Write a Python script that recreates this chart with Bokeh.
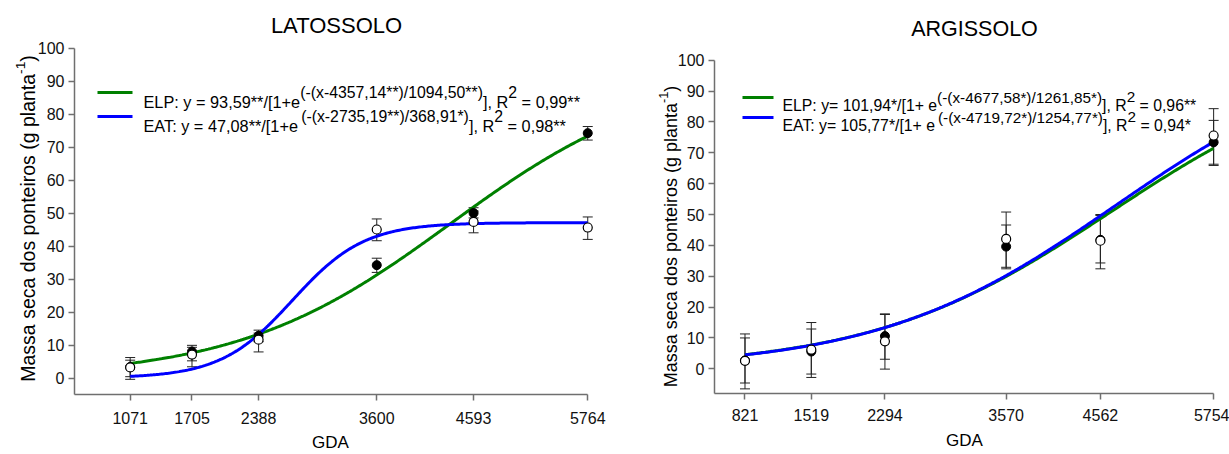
import numpy as np
from bokeh.plotting import figure
from bokeh.layouts import row
from bokeh.models import (Range1d, FixedTicker, Label, BoxAnnotation, Whisker, TeeHead,
                          ColumnDataSource)
from bokeh.embed import file_html
from bokeh.resources import INLINE

FONT = "Liberation Sans"
ELP_COLOR = "#008000"
EAT_COLOR = "#0000ff"
AXIS_COLOR = "#6f6f6f"

# ---------------- LATOSSOLO ----------------
lat_gda = [1071, 1705, 2388, 3600, 4593, 5764]
lat_elp = [3.3, 8.0, 12.8, 34.2, 50.0, 74.2]
lat_elp_low = [0.4, 5.2, 11.0, 32.0, 48.5, 72.1]
lat_elp_high = [6.2, 9.9, 14.5, 36.3, 51.6, 76.2]
lat_eat = [3.2, 7.1, 11.6, 45.0, 47.3, 45.6]
lat_eat_low = [-0.4, 3.4, 7.9, 41.6, 44.0, 42.0]
lat_eat_high = [5.4, 9.3, 13.6, 48.2, 50.6, 48.8]
# sigmoid parameters a, x0, b of y = a / (1 + exp(-(x - x0) / b))
lat_elp_fit = [93.59, 4357.14, 1094.50]
lat_eat_fit = [47.08, 2735.19, 368.91]

# ---------------- ARGISSOLO ----------------
arg_gda = [821, 1519, 2294, 3570, 4562, 5754]
arg_elp = [2.7, 5.6, 10.6, 39.6, 41.8, 73.4]
arg_elp_low = [-4.6, -1.7, 3.1, 32.9, 34.3, 66.3]
arg_elp_high = [10.0, 12.9, 17.8, 46.6, 49.7, 80.5]
arg_eat = [2.6, 6.2, 8.9, 42.1, 41.5, 75.6]
arg_eat_low = [-6.5, -2.8, -0.1, 32.4, 32.4, 65.9]
arg_eat_high = [11.3, 15.0, 17.6, 50.8, 50.0, 84.3]
arg_elp_fit = [101.94, 4677.58, 1261.85]
arg_eat_fit = [105.77, 4719.72, 1254.77]

y_ticks = [0, 10, 20, 30, 40, 50, 60, 70, 80, 90, 100]

# equation texts: (piece, is_superscript)
lat_elp_eq = [("ELP: y = 93,59**/[1+e", False), ("(-(x-4357,14**)/1094,50**)", True),
              ("], R", False), ("2", True), (" = 0,99**", False)]
lat_eat_eq = [("EAT: y = 47,08**/[1+e", False), ("(-(x-2735,19**)/368,91*)", True),
              ("], R", False), ("2", True), (" = 0,98**", False)]
arg_elp_eq = [("ELP: y= 101,94*/[1+ e", False), ("(-(x-4677,58*)/1261,85*)", True),
              ("], R", False), ("2", True), (" = 0,96**", False)]
arg_eat_eq = [("EAT: y= 105,77*/[1+ e", False), ("(-(x-4719,72*)/1254,77*)", True),
              ("], R", False), ("2", True), (" = 0,94*", False)]
y_title = [("Massa seca dos ponteiros (g planta", False), ("-1", True), (")", False)]
x_title = "GDA"

# Arial / Liberation Sans advance widths (em)
ADV = {" ": .278, "(": .333, ")": .333, "*": .389, "+": .584, ",": .278, "-": .333,
       ".": .278, "/": .278, ":": .278, "=": .584, "[": .278, "]": .278,
       "A": .667, "E": .667, "L": .556, "P": .667, "R": .722, "T": .611, "G": .778,
       "D": .722, "M": .833, "a": .556, "c": .5, "d": .556, "e": .556, "g": .556,
       "i": .222, "l": .222, "n": .556, "o": .556, "p": .556, "r": .333, "s": .5,
       "t": .278, "x": .5, "y": .5}


def text_w(s, size):
    return sum(ADV.get(c, 0.556) for c in s) * size


def sigmoid(x, fit):
    a, x0, b = fit
    return a / (1.0 + np.exp(-(x - x0) / b))


def panel(cfg):
    W, H = cfg["width"], 454
    ax_px, ax_py = cfg["axis_px"], cfg["axis_py"]   # pixel position of the y and x axis lines
    x0, kx = 500, cfg["kx"]
    y0, ky = cfg["y0"], cfg["ky"]
    x_start = x0 - ax_px / kx
    y_end = y0 + ax_py / ky

    # the frame covers the whole canvas; axes sit at fixed data locations inside it
    p = figure(width=W, height=H, title=None,
               x_range=Range1d(x_start, x_start + W / kx),
               y_range=Range1d(y_end - H / ky, y_end),
               output_backend="svg", toolbar_location=None,
               min_border_left=0, min_border_bottom=0,
               min_border_top=0, min_border_right=0)
    p.outline_line_color = None
    p.xgrid.visible = False
    p.ygrid.visible = False
    p.background_fill_color = "white"
    p.border_fill_color = "white"

    def px2x(px):
        return x_start + px / kx

    def py2y(py):
        return y_end - py / ky

    gda = cfg["gda"]
    # axes
    p.xaxis.ticker = FixedTicker(ticks=gda)
    p.yaxis.ticker = FixedTicker(ticks=y_ticks)
    p.xaxis.bounds = (x0, gda[-1])
    p.yaxis.bounds = (y0, 100)
    p.xaxis.fixed_location = y0
    p.yaxis.fixed_location = x0
    for ax in (p.xaxis[0], p.yaxis[0]):
        ax.axis_line_color = AXIS_COLOR
        ax.axis_line_width = 1.5
        ax.major_tick_line_color = AXIS_COLOR
        ax.major_tick_line_width = 1.5
        ax.major_tick_in = 0
        ax.major_tick_out = 6
        ax.minor_tick_out = 0
        ax.minor_tick_in = 0
        ax.major_label_text_font = FONT
        ax.major_label_text_font_size = cfg["tick_size"]
        ax.major_label_text_color = "#111111"
    p.xaxis.major_label_standoff = cfg["xtick_standoff"]
    p.yaxis.major_label_standoff = 4

    # fitted curves
    xs = np.linspace(gda[0], gda[-1], 300)
    p.line(xs, sigmoid(xs, cfg["elp_fit"]), line_color=ELP_COLOR, line_width=3)
    p.line(xs, sigmoid(xs, cfg["eat_fit"]), line_color=EAT_COLOR, line_width=3)

    # error bars
    for lo, hi in ((cfg["elp_low"], cfg["elp_high"]), (cfg["eat_low"], cfg["eat_high"])):
        src = ColumnDataSource(dict(x=gda, lo=lo, hi=hi))
        p.add_layout(Whisker(source=src, base="x", lower="lo", upper="hi",
                             line_color="#222222", line_width=1,
                             upper_head=TeeHead(size=10, line_color="#222222", line_width=1),
                             lower_head=TeeHead(size=10, line_color="#222222", line_width=1)))

    # observed means
    p.scatter(gda, cfg["elp"], marker="circle", size=9, fill_color="black", line_color="black")
    p.scatter(gda, cfg["eat"], marker="circle", size=9, fill_color="white",
              line_color="black", line_width=1.2)

    def lbl(px, py, text, size, **kw):
        p.add_layout(Label(x=px2x(px), y=py2y(py), text=text, text_font=FONT,
                           text_font_size=f"{size}px", text_color="black", **kw))

    # panel title and x axis title
    lbl(cfg["title_x"], cfg["title_y"], cfg["title"], cfg["title_size"],
        text_align="center", text_baseline="middle")
    lbl(cfg["gda_x"], cfg["gda_y"], x_title, cfg["gda_size"],
        text_align="center", text_baseline="middle")

    # rotated y axis title with a superscript exponent
    fs = cfg["ylab_size"]
    sup_fs = fs * 0.7
    total = sum(text_w(t, sup_fs if s else fs) for t, s in y_title)
    pos = cfg["ylab_cy"] + total / 2
    base_x = cfg["ylab_cx"] + 0.25 * fs
    for t, s in y_title:
        size = sup_fs if s else fs
        bx = base_x - 0.42 * fs if s else base_x
        lbl(bx, pos, t, size, angle=np.pi / 2, text_align="left", text_baseline="alphabetic")
        pos -= text_w(t, size)

    # equation legend
    lx0, lx1, tx = cfg["leg_line"]
    mfs, sfs, rise, dy = cfg["leg_size"], cfg["leg_sup"], cfg["leg_rise"], cfg["leg_dy"]
    for eq, color, ly in ((cfg["elp_eq"], ELP_COLOR, cfg["leg_y"][0]),
                          (cfg["eat_eq"], EAT_COLOR, cfg["leg_y"][1])):
        p.add_layout(BoxAnnotation(left=px2x(lx0), right=px2x(lx1),
                                   top=py2y(ly - 1.5), bottom=py2y(ly + 1.5),
                                   fill_color=color, fill_alpha=1.0, line_color=None))
        base = ly + dy + 0.36 * mfs
        x = tx
        for t, s in eq:
            size = sfs if s else mfs
            lead = len(t) - len(t.lstrip(" "))
            body = t.strip(" ")
            yb = base - rise if s else base
            lbl(x + text_w(" " * lead, size), yb, body, size,
                text_align="left", text_baseline="alphabetic")
            x += text_w(t, size)
    return p


lat_cfg = dict(width=615, axis_px=74, axis_py=394, kx=0.0975, y0=-5, ky=3.3,
               gda=lat_gda, elp=lat_elp, elp_low=lat_elp_low, elp_high=lat_elp_high,
               eat=lat_eat, eat_low=lat_eat_low, eat_high=lat_eat_high,
               elp_fit=lat_elp_fit, eat_fit=lat_eat_fit,
               tick_size="16px", xtick_standoff=11,
               title="LATOSSOLO", title_x=336, title_y=25, title_size=22,
               gda_x=330, gda_y=442, gda_size=17,
               ylab_size=19.5, ylab_cx=23, ylab_cy=218,
               leg_line=(97, 132, 143), leg_y=(92, 116), leg_size=16.3, leg_sup=15.8,
               leg_rise=10, leg_dy=4, elp_eq=lat_elp_eq, eat_eq=lat_eat_eq)

arg_cfg = dict(width=614, axis_px=99, axis_py=393, kx=0.095, y0=-8, ky=3.086,
               gda=arg_gda, elp=arg_elp, elp_low=arg_elp_low, elp_high=arg_elp_high,
               eat=arg_eat, eat_low=arg_eat_low, eat_high=arg_eat_high,
               elp_fit=arg_elp_fit, eat_fit=arg_eat_fit,
               tick_size="16px", xtick_standoff=9,
               title="ARGISSOLO", title_x=359, title_y=28, title_size=21.5,
               gda_x=349, gda_y=440, gda_size=17,
               ylab_size=18, ylab_cx=51, ylab_cy=236,
               leg_line=(127, 158, 167), leg_y=(97, 117), leg_size=15.8, leg_sup=15.3,
               leg_rise=8, leg_dy=2, elp_eq=arg_elp_eq, eat_eq=arg_eat_eq)

layout = row(panel(lat_cfg), panel(arg_cfg))
open("out.html", "w").write(file_html(layout, INLINE))
